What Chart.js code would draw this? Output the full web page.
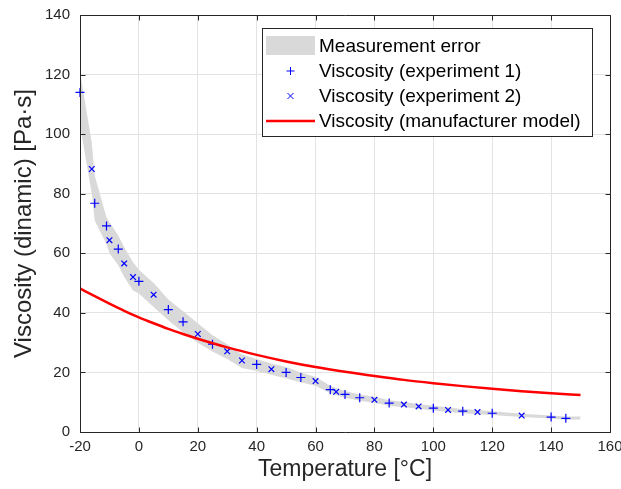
<!DOCTYPE html>
<html>
<head>
<meta charset="utf-8">
<script src="https://cdn.jsdelivr.net/npm/chart.js@4.4.1/dist/chart.umd.min.js"></script>
<style>
  html, body { margin: 0; padding: 0; background: #fff; }
  #wrap { width: 621px; height: 489px; }
</style>
</head>
<body>
<div id="wrap"><canvas id="viscChart" width="621" height="489"></canvas></div>
<script>
// experiment 1 (+ markers)
const temps1 = [-20, -15, -11, -7, 0, 10, 15, 25, 40, 50, 55, 65, 70, 75, 85, 100, 110, 120, 140, 145];
const visc1 = [114, 76.8, 69.2, 61.4, 50.6, 41.1, 37, 29.5, 22.7, 20, 18.3, 14.2, 12.6, 11.5, 9.7, 8, 7, 6.3, 5, 4.6];

// experiment 2 (x markers)
const temps2 = [-16, -10, -5, -2, 5, 20, 30, 35, 45, 60, 67, 80, 90, 95, 105, 115, 130];
const visc2 = [88.3, 64.4, 56.6, 52, 46.1, 32.9, 27.1, 24, 21.1, 17.1, 13.5, 10.8, 9.2, 8.6, 7.4, 6.7, 5.5];

// measurement error band
const bandTemps = [-20, -16, -15, -11, -10, -7, -5, -2, 0, 5, 10, 15, 20, 25, 30, 35, 40, 45, 50, 55, 60, 65, 67, 70, 75, 80, 85, 90, 95, 100, 105, 110, 115, 120, 130, 140, 145, 150];
const bandHigh = [121, 97, 86, 72, 70.5, 66, 62, 57, 54.5, 50, 44.5, 40.5, 36.5, 32.5, 29.5, 26, 24.5, 23, 21.8, 20, 18.5, 15.5, 14.7, 13.8, 12.6, 11.8, 10.7, 10.1, 9.4, 8.8, 8.2, 7.7, 7.4, 7, 6.1, 5.5, 5.2, 5.2];
const bandLow = [103, 80, 71, 63, 60, 56, 52, 47.5, 46.5, 42, 37.5, 33.5, 30, 27, 24.5, 21.5, 20.5, 19.2, 18, 16.7, 15.5, 13, 12.3, 11.5, 10.5, 9.8, 8.8, 8.3, 7.8, 7.2, 6.7, 6.3, 6, 5.7, 5, 4.5, 4.1, 4.2];

// manufacturer model
const modelTemps = [-20, -15, -10, -5, 0, 5, 10, 15, 20, 30, 40, 50, 60, 70, 80, 90, 100, 110, 120, 130, 140, 150];
const modelVisc = [48.2, 45.6, 43.1, 40.7, 38.5, 36.5, 34.6, 32.9, 31.3, 28.4, 25.9, 23.7, 21.8, 20.2, 18.8, 17.5, 16.4, 15.4, 14.5, 13.7, 13.0, 12.4];

const xTicks = [-20, 0, 20, 40, 60, 80, 100, 120, 140, 160];
const yTicks = [0, 20, 40, 60, 80, 100, 120, 140];

const legendLabels = ['Measurement error', 'Viscosity (experiment 1)', 'Viscosity (experiment 2)', 'Viscosity (manufacturer model)'];

const FONT = '"Liberation Sans", Arial, Helvetica, sans-serif';
const AXIS_COLOR = '#262626';
const BLUE = '#0000ff';
const RED = '#ff0000';
const GREY = 'rgb(217,217,217)';

function pts(xs, ys) {
    return xs.map(function (x, i) { return { x: x, y: ys[i] }; });
}

// box and inward ticks, placed from the scales themselves
function drawAxisBox(chart) {
    const ctx = chart.ctx;
    const xs = chart.scales.x;
    const ys = chart.scales.y;
    const len = 5;
    const L = Math.round(xs.getPixelForValue(xs.min)) + 0.5;
    const R = Math.round(xs.getPixelForValue(xs.max)) + 0.5;
    const T = Math.round(ys.getPixelForValue(ys.max)) + 0.5;
    const B = Math.round(ys.getPixelForValue(ys.min)) + 0.5;
    ctx.save();
    ctx.strokeStyle = AXIS_COLOR;
    ctx.lineWidth = 1;
    ctx.beginPath();
    xTicks.forEach(function (v) {
        const px = Math.round(xs.getPixelForValue(v)) + 0.5;
        ctx.moveTo(px, B); ctx.lineTo(px, B - len);
        ctx.moveTo(px, T); ctx.lineTo(px, T + len);
    });
    yTicks.forEach(function (v) {
        const py = Math.round(ys.getPixelForValue(v)) + 0.5;
        ctx.moveTo(L, py); ctx.lineTo(L + len, py);
        ctx.moveTo(R, py); ctx.lineTo(R - len, py);
    });
    ctx.rect(L, T, R - L, B - T);
    ctx.stroke();
    ctx.restore();
}

// legend drawn inside the plot area, upper right
function drawLegendBox(chart) {
    const ctx = chart.ctx;
    const xs = chart.scales.x;
    const ys = chart.scales.y;
    const w = 330, h = 108;
    const left = Math.round(xs.getPixelForValue(xs.max) - 18 - w);
    const top = Math.round(ys.getPixelForValue(ys.max) + 13);
    ctx.save();
    ctx.fillStyle = '#fff';
    ctx.fillRect(left, top, w, h);
    ctx.strokeStyle = AXIS_COLOR;
    ctx.lineWidth = 1;
    ctx.strokeRect(left + 0.5, top + 0.5, w, h);

    const sx = left + 4, sw = 49, cx = sx + sw / 2;
    ctx.font = '19px ' + FONT;
    ctx.textBaseline = 'middle';
    legendLabels.forEach(function (lbl, i) {
        const cy = top + 18 + i * 25;
        if (i === 0) {
            ctx.fillStyle = GREY;
            ctx.fillRect(sx, cy - 10, sw, 19);
        } else if (i === 1) {
            ctx.strokeStyle = BLUE;
            ctx.beginPath();
            ctx.moveTo(cx - 4, cy); ctx.lineTo(cx + 4, cy);
            ctx.moveTo(cx, cy - 4); ctx.lineTo(cx, cy + 4);
            ctx.stroke();
        } else if (i === 2) {
            ctx.strokeStyle = BLUE;
            ctx.beginPath();
            ctx.moveTo(cx - 3, cy - 3); ctx.lineTo(cx + 3, cy + 3);
            ctx.moveTo(cx - 3, cy + 3); ctx.lineTo(cx + 3, cy - 3);
            ctx.stroke();
        } else {
            ctx.strokeStyle = RED;
            ctx.lineWidth = 2.5;
            ctx.beginPath();
            ctx.moveTo(sx, cy); ctx.lineTo(sx + sw, cy);
            ctx.stroke();
            ctx.lineWidth = 1;
        }
        ctx.fillStyle = '#000';
        ctx.fillText(lbl, sx + sw + 4, cy + 1);
    });
    ctx.restore();
}

const overlay = {
    id: 'overlay',
    afterDraw: function (chart) {
        drawAxisBox(chart);
        drawLegendBox(chart);
    }
};

const viscChart = new Chart(document.getElementById('viscChart'), {
    type: 'scatter',
    data: {
        datasets: [
            {
                type: 'line',
                label: 'band high',
                data: pts(bandTemps, bandHigh),
                borderWidth: 0,
                borderColor: 'rgba(0,0,0,0)',
                backgroundColor: GREY,
                pointRadius: 0,
                tension: 0,
                fill: '+1',
                order: 5
            },
            {
                type: 'line',
                label: 'band low',
                data: pts(bandTemps, bandLow),
                borderWidth: 0,
                borderColor: 'rgba(0,0,0,0)',
                pointRadius: 0,
                tension: 0,
                fill: false,
                order: 4
            },
            {
                label: legendLabels[1],
                data: pts(temps1, visc1),
                pointStyle: 'cross',
                pointRadius: 4.5,
                borderColor: BLUE,
                backgroundColor: BLUE,
                borderWidth: 1.2,
                clip: false,
                order: 3
            },
            {
                label: legendLabels[2],
                data: pts(temps2, visc2),
                pointStyle: 'crossRot',
                pointRadius: 4,
                borderColor: BLUE,
                backgroundColor: BLUE,
                borderWidth: 1.2,
                clip: false,
                order: 2
            },
            {
                type: 'line',
                label: legendLabels[3],
                data: pts(modelTemps, modelVisc),
                borderColor: RED,
                borderWidth: 2.5,
                pointRadius: 0,
                cubicInterpolationMode: 'monotone',
                fill: false,
                order: 1
            }
        ]
    },
    options: {
        responsive: false,
        animation: false,
        events: [],
        layout: { padding: { top: 15, right: 11, left: 0, bottom: 0 } },
        plugins: {
            legend: { display: false },
            tooltip: { enabled: false }
        },
        scales: {
            x: {
                type: 'linear',
                min: -20,
                max: 160,
                afterBuildTicks: function (scale) {
                    scale.ticks = xTicks.map(function (v) { return { value: v }; });
                },
                afterFit: function (scale) {
                    scale.height = 57;
                    scale.paddingLeft = 0;
                    scale.paddingRight = 0;
                },
                grid: { color: '#e3e3e3', drawTicks: false },
                border: { display: false },
                ticks: {
                    color: AXIS_COLOR,
                    font: { family: FONT, size: 15 },
                    padding: 6,
                    maxRotation: 0
                },
                title: {
                    display: true,
                    text: 'Temperature [\u00b0C]',
                    color: AXIS_COLOR,
                    font: { family: FONT, size: 23 },
                    padding: { top: 0, bottom: 6 }
                }
            },
            y: {
                min: 0,
                max: 140,
                afterBuildTicks: function (scale) {
                    scale.ticks = yTicks.map(function (v) { return { value: v }; });
                },
                afterFit: function (scale) {
                    scale.width = 80;
                    scale.paddingTop = 0;
                    scale.paddingBottom = 0;
                },
                grid: { color: '#e3e3e3', drawTicks: false },
                border: { display: false },
                ticks: {
                    color: AXIS_COLOR,
                    font: { family: FONT, size: 15 },
                    padding: 10
                },
                title: {
                    display: true,
                    text: 'Viscosity (dinamic) [Pa\u00b7s]',
                    color: AXIS_COLOR,
                    font: { family: FONT, size: 24 },
                    padding: { top: 10, bottom: 0 }
                }
            }
        }
    },
    plugins: [overlay]
});
</script>
</body>
</html>
